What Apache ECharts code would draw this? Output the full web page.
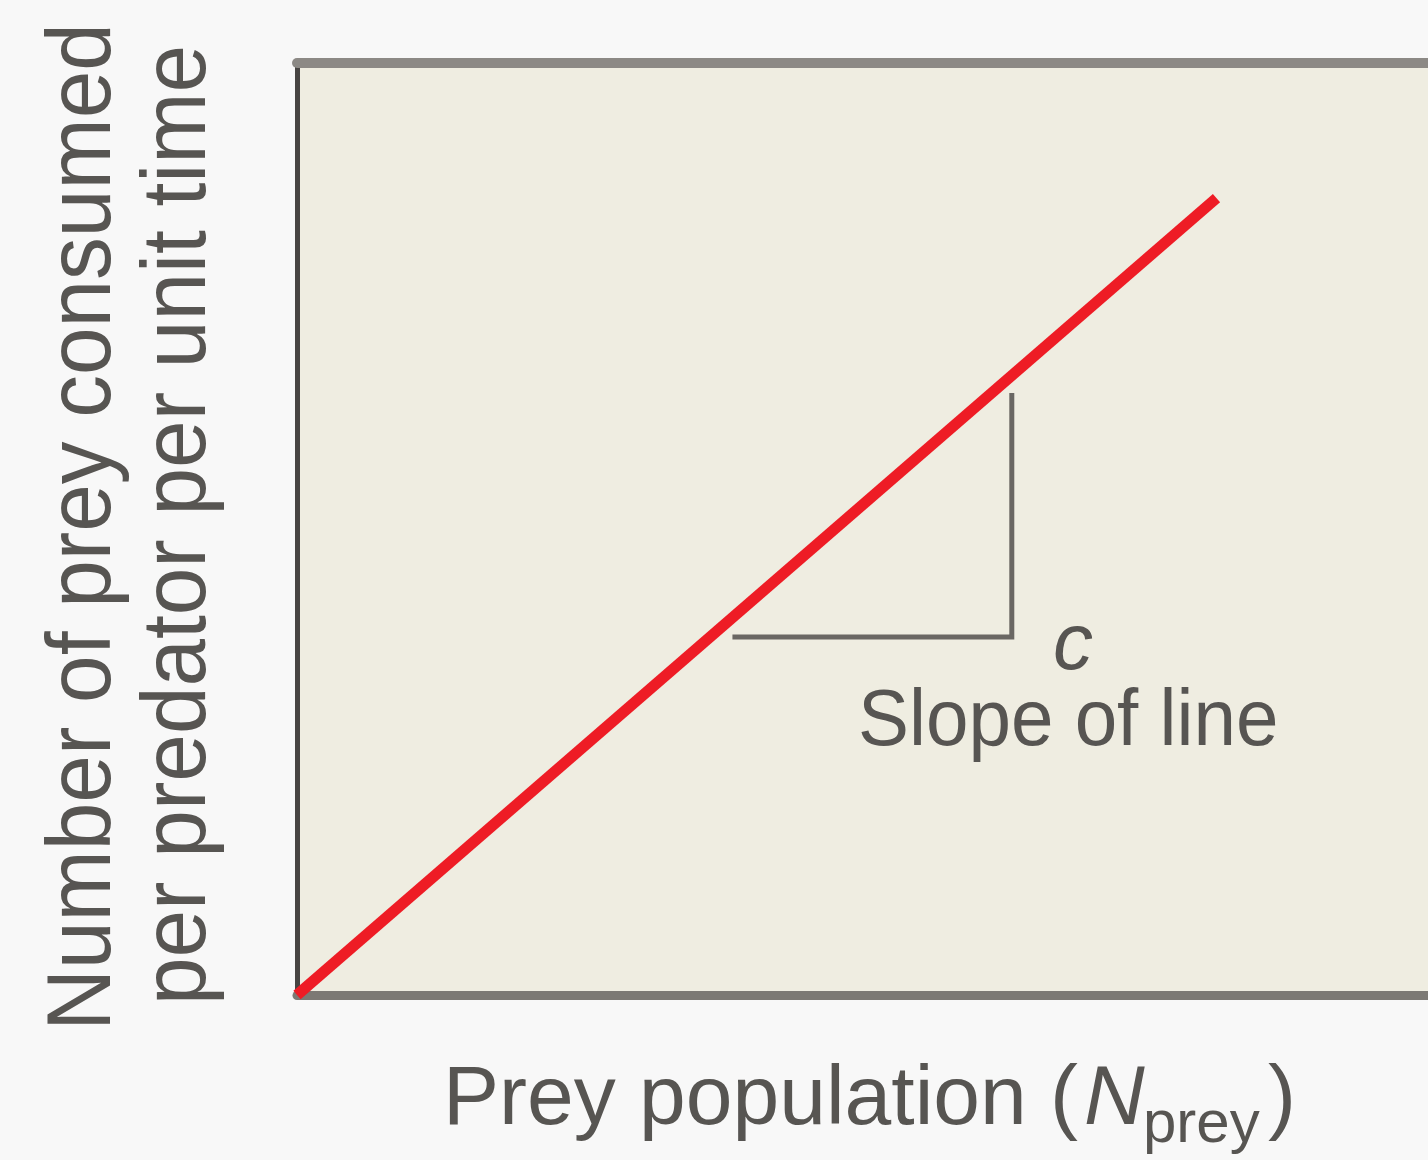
<!DOCTYPE html>
<html>
<head>
<meta charset="utf-8">
<script src="https://cdn.jsdelivr.net/npm/echarts@6/dist/echarts.min.js"></script>
<style>
html,body{margin:0;padding:0;background:#f8f8f8;}
#c{width:1428px;height:1160px;}
</style>
</head>
<body>
<div id="c"></div>
<script>
// Data (abstract units, axes 0..10)
const preyLine = [[0, 0], [8.13, 8.55]];
const slopeTriangle = [[3.85, 3.84], [6.32, 3.84], [6.32, 6.46]];
const xTitleMain = 'Prey population (';
const xTitleVar = 'N';
const xTitleSub = 'prey';
const yTitleLine1 = 'Number of prey consumed';
const yTitleLine2 = 'per predator per unit time';
const slopeSymbol = 'c';
const slopeLabel = 'Slope of line';

const chart = echarts.init(document.getElementById('c'), null, {renderer: 'canvas'});
const FONT = '"Liberation Sans", Arial, sans-serif';
const TXT = '#575552';

chart.setOption({
  animation: false,
  backgroundColor: '#f8f8f8',
  grid: {left: 297, right: 0, top: 63, bottom: 165, show: true, backgroundColor: '#efede1', borderWidth: 0},
  xAxis: [
    {type: 'value', min: 0, max: 10, position: 'bottom',
     axisLine: {show: true, onZero: false, lineStyle: {color: '#7c7974', width: 9}},
     axisTick: {show: false}, axisLabel: {show: false}, splitLine: {show: false}},
    {type: 'value', min: 0, max: 10, position: 'top',
     axisLine: {show: true, onZero: false, lineStyle: {color: '#8c8985', width: 10}},
     axisTick: {show: false}, axisLabel: {show: false}, splitLine: {show: false}}
  ],
  yAxis: {type: 'value', min: 0, max: 10,
    axisLine: {show: true, onZero: false, lineStyle: {color: '#474442', width: 5}},
    axisTick: {show: false}, axisLabel: {show: false}, splitLine: {show: false}},
  series: [
    {type: 'line', data: slopeTriangle, symbol: 'none', z: 3,
     lineStyle: {color: '#6a6763', width: 5, join: 'miter'}},
    {type: 'line', data: preyLine, symbol: 'none', z: 4,
     lineStyle: {color: '#ee1c25', width: 11}}
  ],
  graphic: [
    {type: 'text', x: 85, y: 527, rotation: Math.PI / 2, scaleX: 0.95,
     style: {text: yTitleLine1, font: '90px ' + FONT, fill: TXT, align: 'center', verticalAlign: 'middle'}},
    {type: 'text', x: 180, y: 525, rotation: Math.PI / 2, scaleX: 0.95,
     style: {text: yTitleLine2, font: '90px ' + FONT, fill: TXT, align: 'center', verticalAlign: 'middle'}},
    {type: 'text', x: 443, y: 1101,
     style: {text: xTitleMain, font: '84px ' + FONT, fill: TXT, align: 'left', verticalAlign: 'middle'}},
    {type: 'text', x: 1084, y: 1101,
     style: {text: xTitleVar, font: 'italic 84px ' + FONT, fill: TXT, align: 'left', verticalAlign: 'middle'}},
    {type: 'text', x: 1143, y: 1125,
     style: {text: xTitleSub, font: '60px ' + FONT, fill: TXT, align: 'left', verticalAlign: 'middle'}},
    {type: 'text', x: 1268, y: 1101,
     style: {text: ')', font: '84px ' + FONT, fill: TXT, align: 'left', verticalAlign: 'middle'}},
    {type: 'text', x: 1073, y: 647,
     style: {text: slopeSymbol, font: 'italic 80px ' + FONT, fill: TXT, align: 'center', verticalAlign: 'middle'}},
    {type: 'text', x: 858, y: 723, scaleX: 0.955,
     style: {text: slopeLabel, font: '80px ' + FONT, fill: TXT, align: 'left', verticalAlign: 'middle'}}
  ]
});
</script>
</body>
</html>
